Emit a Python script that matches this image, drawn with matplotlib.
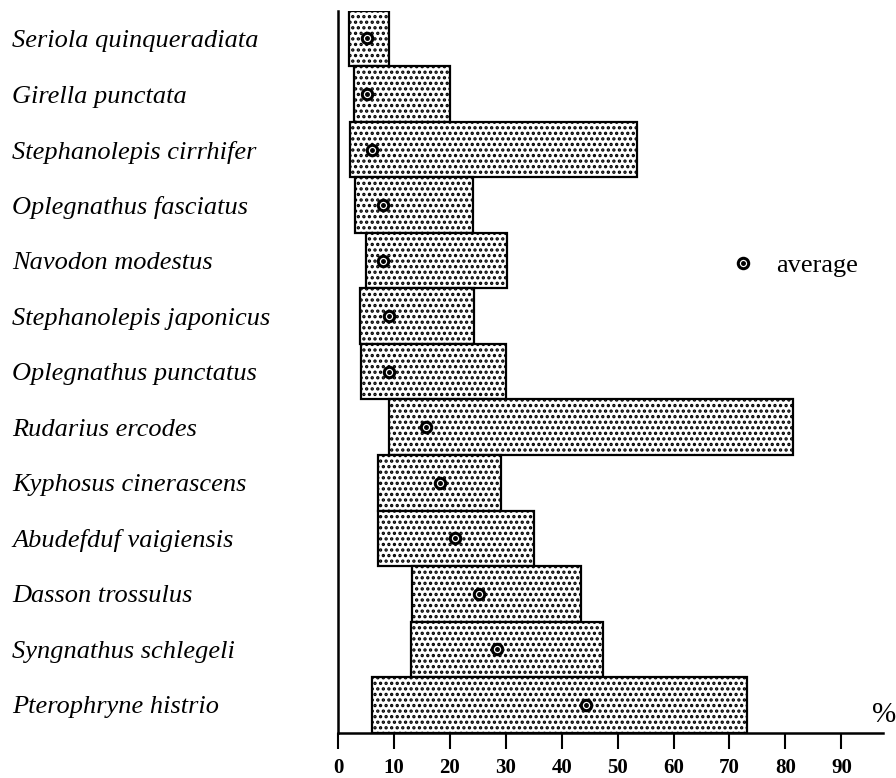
import matplotlib
matplotlib.use("Agg")
import matplotlib.pyplot as plt
from matplotlib.lines import Line2D

species = ["Seriola quinqueradiata", "Girella punctata", "Stephanolepis cirrhifer",
           "Oplegnathus fasciatus", "Navodon modestus", "Stephanolepis japonicus",
           "Oplegnathus punctatus", "Rudarius ercodes", "Kyphosus cinerascens",
           "Abudefduf vaigiensis", "Dasson trossulus", "Syngnathus schlegeli",
           "Pterophryne histrio"]
low = [2.0, 2.9, 2.1, 3.1, 5.0, 4.0, 4.1, 9.2, 7.1, 7.1, 13.2, 13.0, 6.0]
high = [9.1, 20.1, 53.4, 24.2, 30.3, 24.3, 30.0, 81.3, 29.1, 35.1, 43.4, 47.3, 73.2]
average = [5.1, 5.1, 6.1, 8.1, 8.1, 9.2, 9.2, 15.8, 18.2, 20.9, 25.3, 28.4, 44.3]
xticks = [0, 10, 20, 30, 40, 50, 60, 70, 80, 90]

plt.rcParams['hatch.linewidth'] = 1.6
plt.rcParams['font.family'] = ['Liberation Serif', 'DejaVu Serif']

fig = plt.figure(figsize=(8.96, 7.78), dpi=100)
ax = fig.add_axes([338/896, 1-732.7/778, (882.7-338)/896, (732.7-10.7)/778])

ypos = list(range(len(species)))
widths = [h - l for h, l in zip(high, low)]
ax.barh(ypos, widths, left=low, height=1.0, color='white', edgecolor='black',
        linewidth=1.6, hatch='...', zorder=2)
ax.plot(average, ypos, linestyle='none', marker='o', markersize=7.5,
        markerfacecolor='white', markeredgecolor='black', markeredgewidth=2.2, zorder=3)
ax.plot(average, ypos, linestyle='none', marker='o', markersize=2.5,
        color='black', zorder=4)

ax.set_ylim(len(species) - 0.5, -0.5)
ax.set_xlim(0, 97.4)

for s in ['top', 'right']:
    ax.spines[s].set_visible(False)
for s in ['left', 'bottom']:
    ax.spines[s].set_linewidth(1.8)

ax.set_xticks(xticks)
ax.set_xticklabels([str(v) for v in xticks], fontsize=15, fontweight='bold')
ax.tick_params(axis='x', direction='out', length=11.5, width=1.5, pad=7)

ax.set_yticks(ypos)
ax.set_yticklabels(species, fontsize=19, fontstyle='italic', ha='left')
ax.tick_params(axis='y', length=0, pad=(338-12)*72/100)

ax.text(884/896, 1-715/778, '%', transform=fig.transFigure, fontsize=21,
        ha='center', va='center')

ring = Line2D([], [], linestyle='none', marker='o', markersize=7.5,
              markerfacecolor='white', markeredgecolor='black', markeredgewidth=2.2)
dot = Line2D([], [], linestyle='none', marker='o', markersize=2.5, color='black')
fs = 19
ax.legend([(ring, dot)], ['average'], loc='center left',
          bbox_to_anchor=((743 - fs*100/72*0.5)/896, 1-265/778),
          bbox_transform=fig.transFigure, frameon=False, fontsize=fs,
          handlelength=1.0, handletextpad=0.75, borderpad=0, borderaxespad=0)

fig.savefig('out.png', dpi=100)
